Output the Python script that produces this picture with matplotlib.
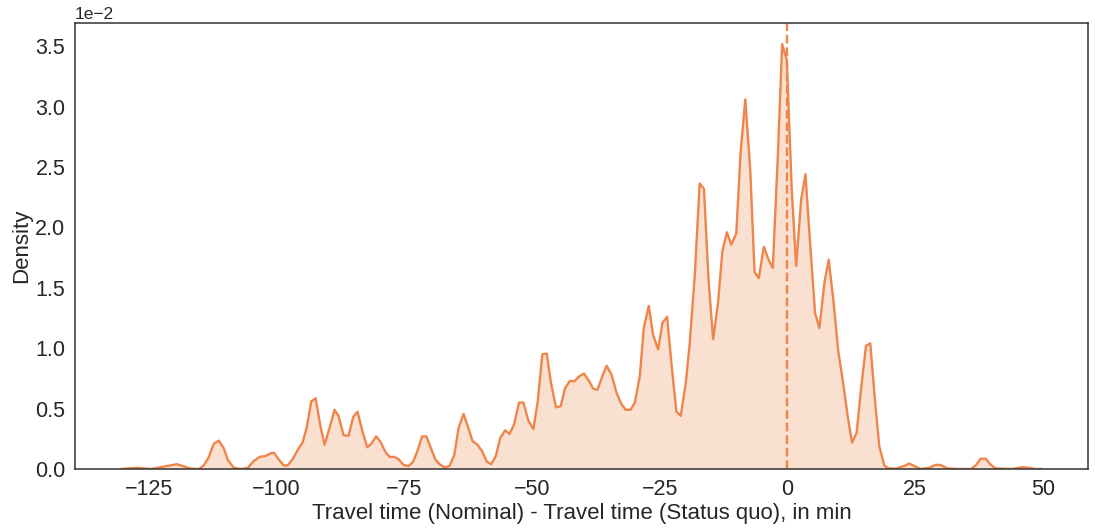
import numpy as np
import matplotlib
matplotlib.use("Agg")
import matplotlib.pyplot as plt
import seaborn as sns

# travel time difference (min) and kde density, density in 1e-2 units
diff_min = [
    -130.47, -127.21, -124.61, -119.53, -116.80, -115.23, -114.26, -113.28, -112.30, -111.33,
    -110.35, -109.57, -108.40, -107.03, -105.66, -104.49, -103.32, -102.15, -101.17, -100.53,
    -99.61, -98.63, -97.85, -96.88, -95.90, -94.92, -94.14, -93.22, -92.38, -91.41,
    -90.63, -89.65, -88.67, -87.89, -86.91, -85.94, -85.02, -84.18, -83.26, -82.29,
    -81.45, -80.53, -79.69, -78.71, -77.87, -76.95, -76.11, -75.14, -74.16, -73.30,
    -72.52, -71.54, -70.70, -69.79, -68.95, -68.11, -67.19, -66.15, -65.23, -64.39,
    -63.42, -62.56, -61.66, -60.68, -59.82, -58.85, -58.01, -57.09, -56.25, -55.27,
    -54.43, -53.52, -52.54, -51.70, -50.72, -49.75, -48.89, -47.99, -47.13, -46.29,
    -45.31, -44.39, -43.55, -42.58, -41.74, -40.82, -39.84, -38.87, -38.03, -37.21,
    -36.27, -35.41, -34.43, -33.46, -32.48, -31.64, -30.72, -29.88, -28.91, -28.13,
    -27.15, -26.31, -25.33, -24.47, -23.57, -22.66, -21.74, -20.90, -19.92, -19.14,
    -18.16, -17.19, -16.35, -15.43, -14.55, -13.61, -12.75, -11.86, -11.00, -10.02,
    -9.18, -8.26, -7.29, -6.45, -5.61, -4.63, -3.71, -2.87, -1.89, -1.04,
    -0.14, 0.84, 1.70, 2.68, 3.52, 4.43, 5.41, 6.25, 7.23, 8.07,
    8.98, 9.96, 10.80, 11.78, 12.64, 13.54, 14.39, 15.37, 16.21, 17.13,
    17.97, 18.95, 19.79, 21.23, 22.85, 23.83, 24.80, 26.11, 27.73, 29.04,
    30.02, 31.31, 33.59, 35.94, 36.86, 37.83, 38.81, 39.79, 40.76, 43.95,
    45.96, 47.27, 48.57, 49.80,
]
density_e2 = [
    0.0, 0.01, 0.0, 0.04, 0.003, 0.0, 0.03, 0.10, 0.21, 0.235,
    0.17, 0.075, 0.01, 0.0, 0.01, 0.066, 0.10, 0.108, 0.13, 0.135,
    0.08, 0.03, 0.03, 0.08, 0.157, 0.22, 0.34, 0.56, 0.585, 0.35,
    0.20, 0.34, 0.49, 0.44, 0.28, 0.275, 0.43, 0.475, 0.32, 0.18,
    0.21, 0.27, 0.225, 0.14, 0.10, 0.10, 0.08, 0.033, 0.025, 0.06,
    0.14, 0.27, 0.27, 0.17, 0.08, 0.04, 0.014, 0.025, 0.116, 0.34,
    0.456, 0.35, 0.232, 0.20, 0.15, 0.06, 0.04, 0.108, 0.255, 0.32,
    0.29, 0.37, 0.55, 0.55, 0.40, 0.33, 0.56, 0.95, 0.955, 0.71,
    0.51, 0.52, 0.67, 0.73, 0.725, 0.765, 0.79, 0.73, 0.665, 0.655,
    0.765, 0.855, 0.78, 0.63, 0.535, 0.49, 0.49, 0.55, 0.77, 1.167,
    1.35, 1.11, 0.99, 1.21, 1.26, 0.85, 0.475, 0.44, 0.71, 1.04,
    1.595, 2.363, 2.32, 1.55, 1.075, 1.37, 1.80, 1.96, 1.857, 1.95,
    2.62, 3.06, 2.48, 1.63, 1.58, 1.84, 1.733, 1.665, 2.59, 3.516,
    3.39, 2.31, 1.68, 2.23, 2.44, 1.87, 1.29, 1.167, 1.54, 1.733,
    1.40, 0.97, 0.74, 0.44, 0.22, 0.30, 0.66, 1.02, 1.04, 0.57,
    0.19, 0.03, 0.005, 0.003, 0.025, 0.045, 0.025, 0.0, 0.01, 0.035,
    0.033, 0.005, 0.0, 0.0, 0.03, 0.085, 0.085, 0.035, 0.005, 0.0,
    0.015, 0.01, 0.0, 0.0,
]
density = np.array(density_e2) * 1e-2

sns.set_style("white")
plt.rcParams["font.family"] = ["Liberation Sans", "DejaVu Sans"]

color = "#EE854A"

fig = plt.figure(figsize=(10.95, 5.29), dpi=100)
ax = fig.add_axes([0.0685, 0.1134, 0.925, 0.8431])

ax.fill_between(diff_min, density, color=color, alpha=0.25, linewidth=0)
ax.plot(diff_min, density, color=color, linewidth=1.7)
ax.axvline(0, color=color, linestyle="--", linewidth=1.7)

ax.set_ylim(bottom=0)
ax.set_xticks([-125, -100, -75, -50, -25, 0, 25, 50])
ax.ticklabel_format(axis="y", style="sci", scilimits=(0, 0))
ax.tick_params(labelsize=15.5)
ax.yaxis.get_offset_text().set_fontsize(12.5)
ax.set_xlabel("Travel time (Nominal) - Travel time (Status quo), in min", fontsize=16, labelpad=2)
ax.set_ylabel("Density", fontsize=16, labelpad=2)

for s in ax.spines.values():
    s.set_color("#333333")
    s.set_linewidth(1.1)

fig.savefig("out.png", dpi=100)
